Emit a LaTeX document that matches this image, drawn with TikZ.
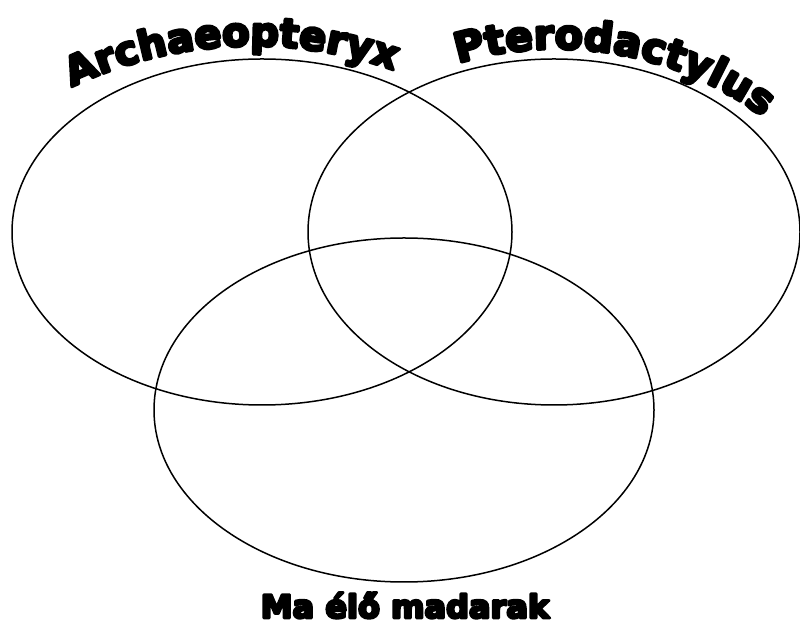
\documentclass[tikz,border=0pt]{standalone}
\usepackage{fontspec}
\newfontfamily\heavy{DejaVu Sans Bold}
\newcommand\thicktext[1]{\special{pdf:literal direct 2 Tr #1 w 1 j}}
\usetikzlibrary{shapes.geometric,decorations.text}
\begin{document}
\begin{tikzpicture}[x=1pt,y=1pt,
  venn/.style={ellipse, draw=black, line width=1.5pt, inner sep=0pt},
  bottomlabel/.style={font=\heavy\fontsize{32}{34}\selectfont, inner sep=0pt, anchor=base}]
\useasboundingbox (0,0) rectangle (800,626);
\node[venn, minimum width=500pt, minimum height=346pt] (e1) at (262,394) {};
\node[venn, minimum width=492pt, minimum height=346pt] (e2) at (554,394) {};
\node[venn, minimum width=500pt, minimum height=344pt] (e3) at (404,216) {};
\coordinate (c1) at (253,160);
\coordinate (c2) at (557,232);
\begin{scope}
\path[decorate, decoration={text along path, text align=center,
  text={|\thicktext{2.9}\heavy\fontsize{40}{42}\selectfont|Archaeopteryx}}]
  (c1) ++(126:420) arc[start angle=126, end angle=60, radius=420];
\end{scope}
\begin{scope}
\path[decorate, decoration={text along path, text align=center,
  text={|\thicktext{2.9}\heavy\fontsize{41}{43}\selectfont|Pterodactylus}}]
  (c2) ++(125:345) arc[start angle=125, end angle=35, radius=345];
\end{scope}
\node[bottomlabel] (lbl3) at (405,8) {\thicktext{2.6}Ma élő madarak};
\end{tikzpicture}
\end{document}
